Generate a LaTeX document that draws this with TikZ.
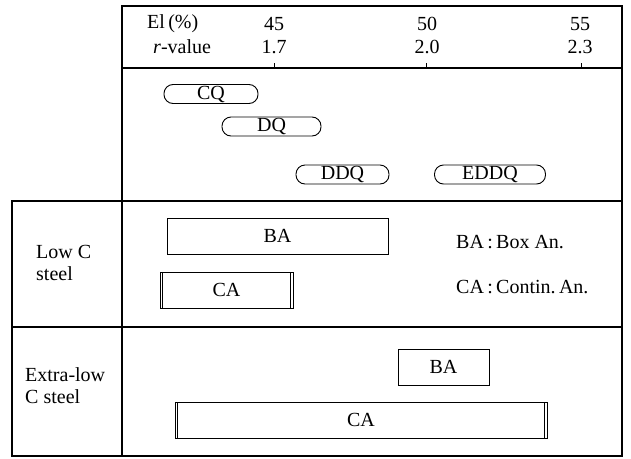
\documentclass[tikz,border=0pt]{standalone}
\usepackage{fontspec}
\setmainfont{Liberation Serif}
\begin{document}
\begin{tikzpicture}[x=1pt,y=-1pt,
  frame/.style={line width=1.1pt},
  bar/.style={draw,line width=0.9pt,inner sep=0pt,outer sep=0pt},
  pill/.style={draw,line width=0.9pt,rounded corners=9pt,inner sep=0pt,outer sep=0pt,minimum height=19pt},
  txt/.style={inner sep=0pt},
  every node/.append style={font=\fontsize{20}{22}\selectfont}]
\useasboundingbox (0,0) rectangle (631,458);
% frame
\draw[frame] (122,6) rectangle (622,456);
\draw[frame] (12,201) rectangle (122,456);
\draw[frame] (122,68) -- (622,68);
\draw[frame] (12,201) -- (622,201);
\draw[frame] (12,327) -- (622,327);
% header
\node[txt,anchor=west] (el) at (147,24) {El\,(\%)};
\node[txt,anchor=west] (rv) at (153,47) {\textit{r}-value};
\node[txt] (e45) at (274,24) {45};
\node[txt] (r17) at (274,47) {1.7};
\node[txt] (e50) at (427,24) {50};
\node[txt] (r20) at (427,47) {2.0};
\node[txt] (e55) at (580,24) {55};
\node[txt] (r23) at (580,47) {2.3};
\coordinate (t1) at (274,68);
\coordinate (t2) at (426,68);
\coordinate (t3) at (581,68);
\foreach \t in {t1,t2,t3} \draw[line width=0.8pt] (\t) -- ++(0,-5);
% qualities
\node[pill,minimum width=94pt] (cq) at (211,94) {CQ};
\node[pill,minimum width=99pt] (dq) at (271.5,126.5) {DQ};
\node[pill,minimum width=93pt] (ddq) at (342.5,174.5) {DDQ};
\node[pill,minimum width=111pt] (eddq) at (490,174.5) {EDDQ};
% low C steel
\node[txt,anchor=west,align=left] (low) at (36,262.5) {Low C\\steel};
\node[bar,minimum width=221pt,minimum height=36pt] (lba) at (277.5,236) {BA};
\node[bar,minimum width=133pt,minimum height=36pt] (lca) at (226.5,290) {CA};
\draw[line width=0.9pt] ([xshift=2.5pt]lca.north west) -- ([xshift=2.5pt]lca.south west);
\draw[line width=0.9pt] ([xshift=-2.5pt]lca.north east) -- ([xshift=-2.5pt]lca.south east);
\node[txt,anchor=west] (kba) at (456,242) {BA\,:\,Box An.};
\node[txt,anchor=west] (kca) at (456,287) {CA\,:\,Contin.\,An.};
% extra-low C steel
\node[txt,anchor=west,align=left] (xlow) at (25,385.5) {Extra-low\\C steel};
\node[bar,minimum width=91pt,minimum height=36pt] (xba) at (443.5,367) {BA};
\node[bar,minimum width=372pt,minimum height=36pt] (xca) at (361,420) {CA};
\draw[line width=0.9pt] ([xshift=2.5pt]xca.north west) -- ([xshift=2.5pt]xca.south west);
\draw[line width=0.9pt] ([xshift=-2.5pt]xca.north east) -- ([xshift=-2.5pt]xca.south east);
\end{tikzpicture}
\end{document}
